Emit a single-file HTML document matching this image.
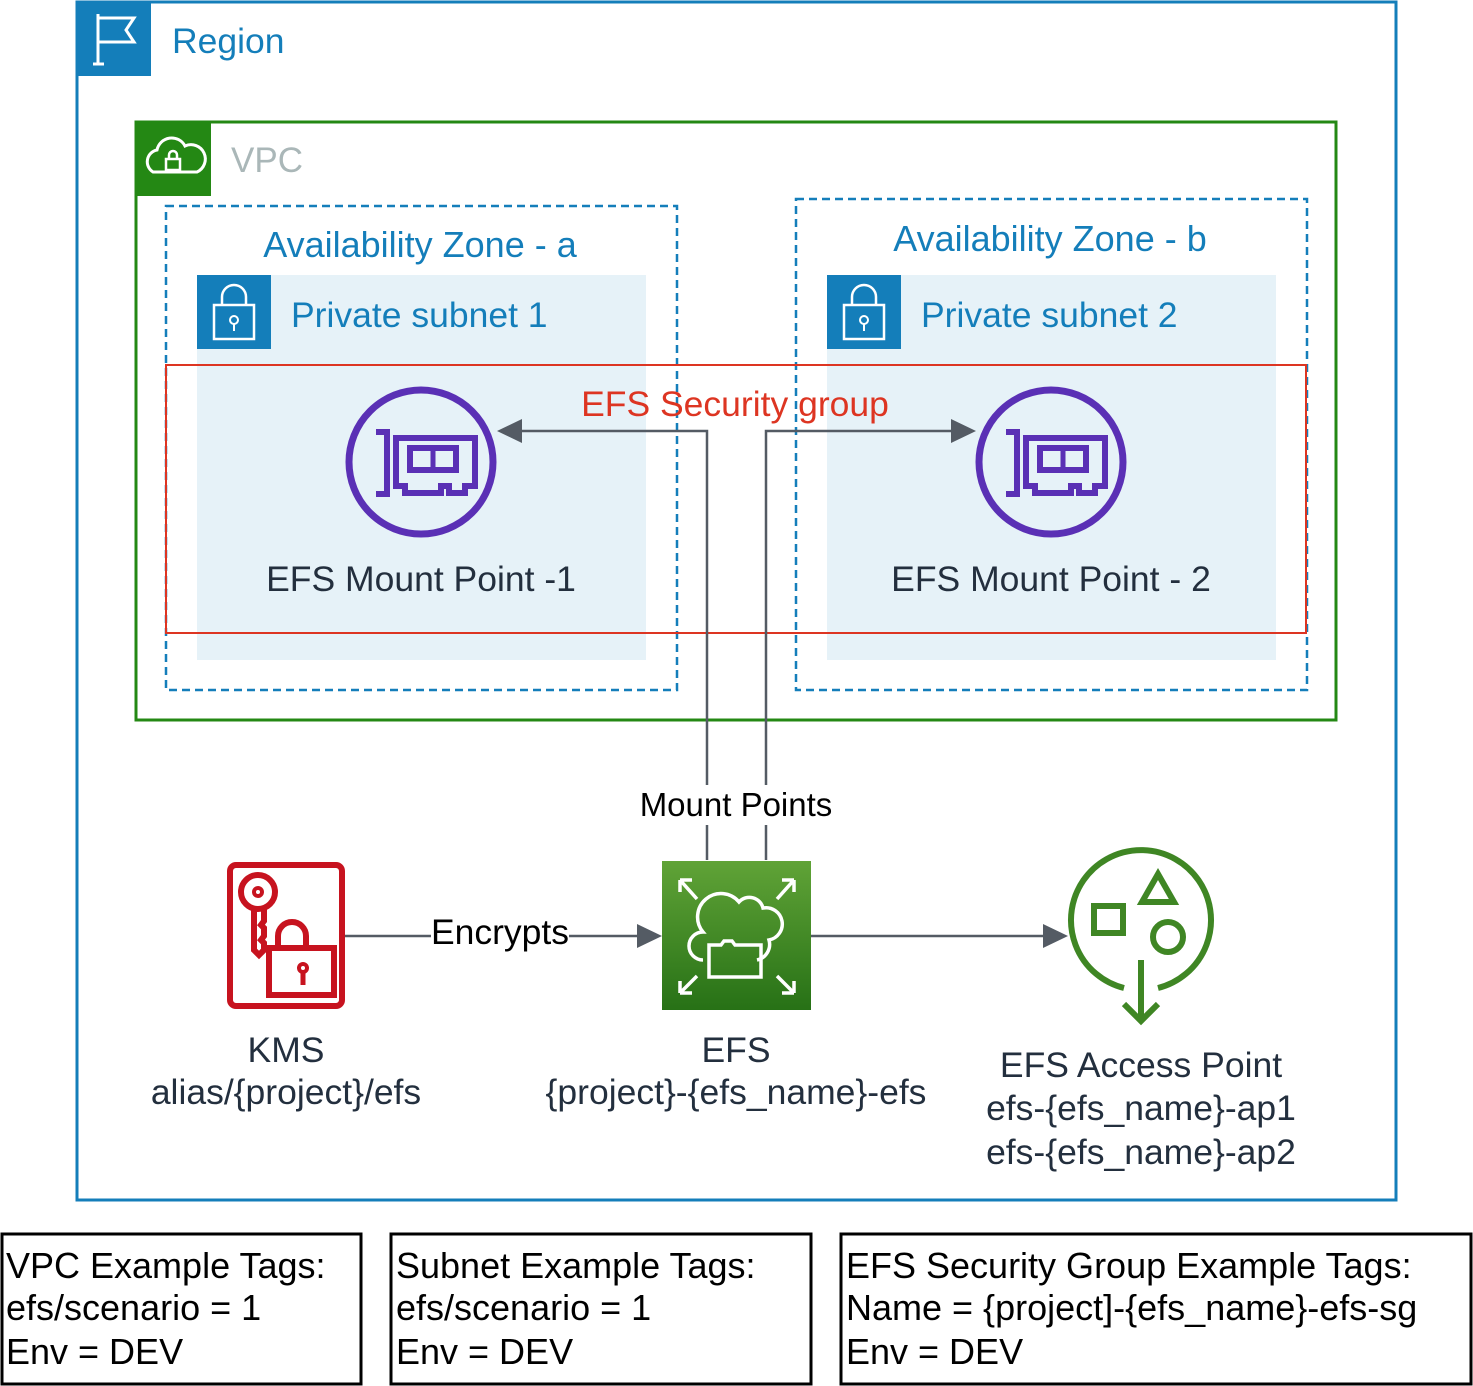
<!DOCTYPE html>
<html><head><style>body{margin:0;background:#fff}svg{display:block}text{font-family:"Liberation Sans",Arial,sans-serif}</style></head><body>
<svg width="1473" height="1386" viewBox="0 0 1473 1386" xmlns="http://www.w3.org/2000/svg">
<defs>
<linearGradient id="g" x1="0" y1="0" x2="0" y2="1"><stop offset="0" stop-color="#60A337"/><stop offset="1" stop-color="#277116"/></linearGradient>
</defs>
<rect x="77" y="2" width="1319" height="1198" fill="none" stroke="#147EBA" stroke-width="3"/>
<rect x="77" y="2" width="74" height="74" fill="#147EBA"/>
<g stroke="#fff" stroke-width="3" fill="none"><line x1="98" y1="14" x2="98" y2="64"/><path d="M98 18 H134 L126 30 L134 42 H98"/><line x1="93" y1="64" x2="104" y2="64"/></g>
<text x="172" y="53" font-size="35.5" fill="#147EBA">Region</text>
<rect x="136" y="122" width="1200" height="598" fill="none" stroke="#248814" stroke-width="3"/>
<rect x="136" y="122" width="75" height="74" fill="#248814"/>
<path d="M153 172 a12 12 0 0 1 4-22 a15 15 0 0 1 28-4 a12 12 0 0 1 12 26 Z" fill="none" stroke="#fff" stroke-width="3"/>
<rect x="166" y="159" width="14" height="11" fill="none" stroke="#fff" stroke-width="2.5"/><path d="M169 159 v-4 a4 4 0 0 1 8 0 v4" fill="none" stroke="#fff" stroke-width="2.5"/>
<text x="231" y="172" font-size="35" fill="#AAB7B8">VPC</text>
<rect x="197" y="275" width="449" height="385" fill="#E6F2F8"/>
<rect x="827" y="275" width="449" height="385" fill="#E6F2F8"/>
<g id="lk">
<rect x="197" y="275" width="74" height="74" fill="#147EBA"/>
<rect x="214" y="305" width="40" height="34" fill="none" stroke="#fff" stroke-width="2.5"/><path d="M222 305 v-8 a12 12 0 0 1 24 0 v8" fill="none" stroke="#fff" stroke-width="2.5"/><circle cx="234" cy="320" r="4" fill="none" stroke="#fff" stroke-width="2"/><line x1="234" y1="324" x2="234" y2="331" stroke="#fff" stroke-width="2"/>
</g>
<use href="#lk" transform="translate(630,0)"/>
<text x="291" y="327" font-size="35.5" fill="#147EBA">Private subnet 1</text>
<text x="921" y="327" font-size="35.5" fill="#147EBA">Private subnet 2</text>
<rect x="166" y="206" width="511" height="484" fill="none" stroke="#147EBA" stroke-width="2.5" stroke-dasharray="8,5"/>
<rect x="796" y="199" width="511" height="491" fill="none" stroke="#147EBA" stroke-width="2.5" stroke-dasharray="8,5"/>
<text x="420" y="257" font-size="36" fill="#147EBA" text-anchor="middle">Availability Zone - a</text>
<text x="1050" y="251" font-size="36" fill="#147EBA" text-anchor="middle">Availability Zone - b</text>
<rect x="166" y="365" width="1140" height="268" fill="none" stroke="#DD3522" stroke-width="2"/>
<g stroke="#545B64" stroke-width="2.5" fill="none">
<path d="M707 860 V431 H520"/><path d="M766 860 V431 H952"/>
<line x1="345" y1="936" x2="638" y2="936"/><line x1="811" y1="936" x2="1045" y2="936"/>
</g>
<g fill="#545B64">
<path d="M497 431 L522 419 L522 443 Z"/><path d="M976 431 L951 419 L951 443 Z"/>
<path d="M662 936 L637 924 L637 948 Z"/><path d="M1068 936 L1043 924 L1043 948 Z"/>
</g>
<text x="735" y="416" font-size="35.5" fill="#DD3522" text-anchor="middle">EFS Security group</text>
<g id="mp" fill="none" stroke="#5A30B5" stroke-width="7">
<circle cx="421" cy="462" r="72"/>
<path d="M376 432 H387 V494 H376" stroke-width="6"/>
<path d="M396 438 H475 V486 H465 V493 H449 V486 H441 V493 H405 V486 H396 Z" stroke-width="6"/>
<rect x="410" y="448" width="46" height="22" stroke-width="6"/><line x1="433" y1="448" x2="433" y2="470" stroke-width="5"/>
</g>
<use href="#mp" transform="translate(630,0)"/>
<text x="421" y="591" font-size="35.5" fill="#232F3E" text-anchor="middle">EFS Mount Point -1</text>
<text x="1051" y="591" font-size="35.5" fill="#232F3E" text-anchor="middle">EFS Mount Point - 2</text>
<rect x="640" y="785" width="192" height="40" fill="#fff"/>
<text x="736" y="816" font-size="33" fill="#000" text-anchor="middle">Mount Points</text>
<g fill="none" stroke="#C7131F" stroke-width="6">
<rect x="230" y="865" width="112" height="141" rx="6"/>
<circle cx="258" cy="892" r="17"/><circle cx="258" cy="892" r="4" stroke-width="4"/>
<path d="M254 909 V950 L259 955 L264 950 V943 L261 940 L264 936 V928 L261 925 L264 921 V909"/>
<rect x="269" y="948" width="65" height="47"/><path d="M278 948 v-12 a14 14 0 0 1 28 0 v12"/>
<circle cx="303" cy="968" r="4" stroke-width="4"/><line x1="303" y1="972" x2="303" y2="985" stroke-width="5"/>
</g>
<rect x="431" y="918" width="138" height="36" fill="#fff"/>
<text x="500" y="944" font-size="35.5" fill="#000" text-anchor="middle">Encrypts</text>
<rect x="662" y="861" width="149" height="149" fill="url(#g)"/>
<g fill="none" stroke="#fff" stroke-width="3.5">
<path d="M680 880 L697 899 M680 880 V892 M680 880 H692"/>
<path d="M794 880 L777 899 M794 880 V892 M794 880 H782"/>
<path d="M680 993 L697 976 M680 993 V981 M680 993 H692"/>
<path d="M794 993 L777 976 M794 993 V981 M794 993 H782"/>
<path d="M703 960 a14 14 0 0 1 0-28 a20 20 0 0 1 36-30 a14 14 0 0 1 24 6 a16 16 0 0 1 6 32 a16 16 0 0 1-12 20"/>
<path d="M709 977 V945 H721 L724 941 H732 L735 945 H761 V977 Z"/>
</g>
<g fill="none" stroke="#3F8624" stroke-width="6">
<path d="M1124 988 A70 70 0 1 1 1158 988"/>
<line x1="1141" y1="960" x2="1141" y2="1020"/><path d="M1124 1004 L1141 1021 L1158 1004"/>
<rect x="1094" y="906" width="29" height="27"/>
<path d="M1158 874 L1174 902 H1142 Z"/>
<circle cx="1168" cy="937" r="15"/>
</g>
<g font-size="35.5" fill="#232F3E" text-anchor="middle">
<text x="286" y="1062">KMS</text><text x="286" y="1104">alias/{project}/efs</text>
<text x="736" y="1062">EFS</text><text x="736" y="1104">{project}-{efs_name}-efs</text>
<text x="1141" y="1077">EFS Access Point</text><text x="1141" y="1120">efs-{efs_name}-ap1</text><text x="1141" y="1164">efs-{efs_name}-ap2</text>
</g>
<g fill="none" stroke="#000" stroke-width="3">
<rect x="2" y="1234" width="359" height="150"/><rect x="391" y="1234" width="420" height="150"/><rect x="841" y="1234" width="630" height="150"/>
</g>
<g font-size="36" fill="#000">
<text x="6" y="1278">VPC Example Tags:</text><text x="6" y="1320">efs/scenario = 1</text><text x="6" y="1364">Env = DEV</text>
<text x="396" y="1278">Subnet Example Tags:</text><text x="396" y="1320">efs/scenario = 1</text><text x="396" y="1364">Env = DEV</text>
<text x="846" y="1278">EFS Security Group Example Tags:</text><text x="846" y="1320">Name = {project]-{efs_name}-efs-sg</text><text x="846" y="1364">Env = DEV</text>
</g>
</svg>
</body></html>
